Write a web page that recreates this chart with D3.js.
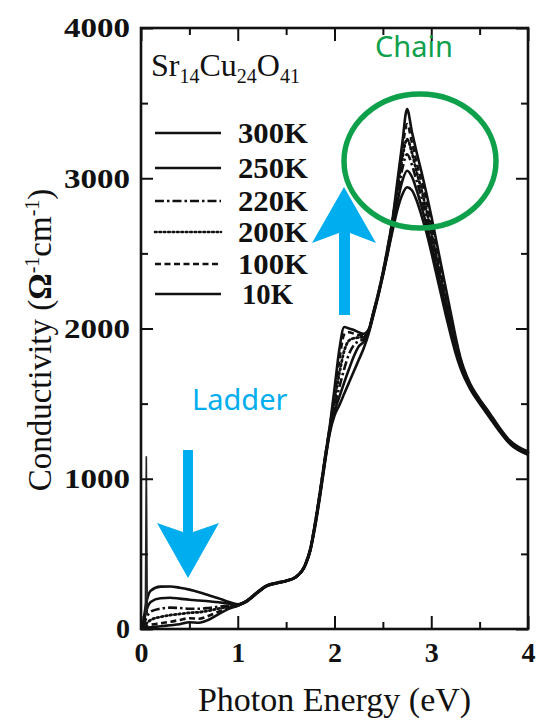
<!DOCTYPE html>
<html><head><meta charset="utf-8">
<script src="https://cdn.jsdelivr.net/npm/d3@7"></script>
<style>body{margin:0;background:#fff}</style>
</head><body>
<svg id="c" width="540" height="720"></svg>
<script>
// ---------------- DATA ----------------
const energy = [0.02,0.06,0.1,0.2,0.3,0.4,0.5,0.6,0.7,0.8,0.9,1.0,1.1,1.2,1.3,1.4,1.5,1.6,
  1.7,1.75,1.8,1.85,1.9,1.95,2.0,2.05,2.1,2.15,2.2,2.25,2.3,2.35,2.4,2.45,2.5,2.55,2.6,2.65,
  2.7,2.75,2.8,2.85,2.9,2.95,3.0,3.05,3.1,3.15,3.2,3.25,3.3,3.4,3.5,3.6,3.7,3.8,3.9,4.0];

const sigma300K = [30,190,255,282,283,275,262,245,225,205,182,165,192,245,290,308,322,348,
  425,520,680,880,1100,1300,1420,1490,1565,1640,1715,1790,1865,1960,2080,2210,2350,2500,2650,2790,
  2890,2940,2920,2850,2750,2640,2510,2370,2230,2090,1960,1840,1740,1600,1500,1410,1320,1240,1190,1160];
const sigma250K = [20,130,180,205,208,202,195,190,185,178,170,163,190,243,288,306,320,346,
  428,525,690,890,1110,1310,1450,1545,1640,1730,1815,1880,1910,1970,2090,2215,2355,2505,2670,2840,
  2980,3050,3010,2920,2810,2690,2560,2420,2280,2140,2000,1870,1760,1610,1510,1420,1325,1245,1195,1165];
const sigma220K = [15,80,115,135,142,140,135,135,140,148,155,160,190,242,287,306,320,345,
  430,528,695,900,1120,1320,1480,1610,1730,1830,1890,1915,1930,1975,2095,2220,2360,2515,2690,2880,
  3060,3160,3090,2980,2870,2740,2600,2460,2310,2170,2030,1890,1775,1620,1515,1425,1330,1250,1200,1170];
const sigma200K = [10,40,60,80,92,100,108,112,122,135,148,158,188,240,286,305,320,345,
  432,530,700,905,1125,1330,1520,1700,1850,1920,1935,1940,1945,1980,2100,2225,2365,2525,2710,2920,
  3130,3260,3170,3040,2920,2790,2640,2490,2340,2190,2050,1910,1790,1625,1520,1430,1335,1255,1205,1175];
const sigma100K = [5,20,28,38,48,60,72,68,88,115,140,157,187,240,286,305,321,346,
  433,532,705,910,1130,1340,1560,1790,1960,1975,1965,1955,1955,1985,2100,2225,2370,2535,2720,2950,
  3190,3360,3240,3100,2980,2850,2700,2540,2380,2230,2080,1930,1800,1630,1525,1435,1340,1258,1208,1178];
const sigma10K = [2,8,12,18,25,32,45,42,62,98,132,155,186,238,285,304,320,345,
  435,535,710,915,1135,1345,1600,1860,2010,2000,1990,1975,1965,1990,2105,2230,2375,2545,2730,2980,
  3230,3460,3310,3170,3040,2900,2750,2590,2430,2270,2110,1950,1810,1635,1530,1440,1345,1262,1212,1182];

// narrow far-infrared (phonon) spike near the origin
const phononEnergy = [0.045,0.055,0.065];
const phononSigma = [100,1150,100];

const temperatures = ["300K","250K","220K","200K","100K","10K"];
const seriesValues = [sigma300K,sigma250K,sigma220K,sigma200K,sigma100K,sigma10K];

const xTickValues = [0,1,2,3,4];
const xMinorTicks = [0.5,1.5,2.5,3.5];
const yTickValues = [0,1000,2000,3000,4000];
const yMinorTicks = [500,1500,2500,3500];

// ---------------- STYLES ----------------
const dashStyle = {"300K":null,"250K":null,"220K":"9,3,2.5,3","200K":"1.6,2.8","100K":"6,3.5","10K":null};
const legendY = [133,168,201,232,264,294];

// ---------------- DRAW ----------------
const svg = d3.select("#c");
const L = 141, R = 528, T = 28, B = 629;
const x = d3.scaleLinear().domain([0,4]).range([L,R]);
const y = d3.scaleLinear().domain([0,4000]).range([B,T]);

const serif = "'Liberation Serif','Times New Roman',serif";

// curves
const line = d3.line().x(d=>x(d[0])).y(d=>y(d[1])).curve(d3.curveMonotoneX);
const gC = svg.append("g");
temperatures.forEach((t,i)=>{
  const pts = energy.map((e,j)=>[e, seriesValues[i][j]]);
  gC.append("path").datum(pts).attr("d", line)
    .attr("fill","none").attr("stroke","#111")
    .attr("stroke-width", t==="200K"?2.8:2.6)
    .attr("stroke-linecap", t==="200K"?"round":"butt")
    .attr("stroke-linejoin","round")
    .attr("stroke-dasharray", dashStyle[t]);
});
gC.append("path").datum(phononEnergy.map((e,j)=>[e,phononSigma[j]]))
  .attr("d", d3.line().x(d=>x(d[0])).y(d=>y(d[1])))
  .attr("fill","none").attr("stroke","#222").attr("stroke-width",1.6);

// axes
const tickLabelStyle = sel => sel.selectAll("text")
  .attr("font-family", serif).attr("font-weight","bold").attr("font-size",28).attr("fill","#111");

const axB = svg.append("g").attr("transform",`translate(0,${B})`)
  .call(d3.axisBottom(x).tickValues(xTickValues).tickFormat(d3.format("d")).tickSize(-13).tickSizeOuter(0).tickPadding(13));
tickLabelStyle(axB);
svg.append("g").attr("transform",`translate(0,${B})`)
  .call(d3.axisBottom(x).tickValues(xMinorTicks).tickFormat("").tickSize(-7).tickSizeOuter(0));
svg.append("g").attr("transform",`translate(0,${T})`)
  .call(d3.axisTop(x).tickValues(xTickValues).tickFormat("").tickSize(-13).tickSizeOuter(0));
svg.append("g").attr("transform",`translate(0,${T})`)
  .call(d3.axisTop(x).tickValues(xMinorTicks).tickFormat("").tickSize(-7).tickSizeOuter(0));

const axL = svg.append("g").attr("transform",`translate(${L},0)`)
  .call(d3.axisLeft(y).tickValues(yTickValues).tickFormat(d3.format("d")).tickSize(-12).tickSizeOuter(0).tickPadding(11));
tickLabelStyle(axL);
axL.selectAll("text").attr("textLength", d=>d>=1000?66:null).attr("lengthAdjust","spacingAndGlyphs");
svg.append("g").attr("transform",`translate(${L},0)`)
  .call(d3.axisLeft(y).tickValues(yMinorTicks).tickFormat("").tickSize(-7).tickSizeOuter(0));
svg.append("g").attr("transform",`translate(${R},0)`)
  .call(d3.axisRight(y).tickValues(yTickValues).tickFormat("").tickSize(-12).tickSizeOuter(0));
svg.append("g").attr("transform",`translate(${R},0)`)
  .call(d3.axisRight(y).tickValues(yMinorTicks).tickFormat("").tickSize(-7).tickSizeOuter(0));

svg.selectAll(".tick line").attr("stroke","#111").attr("stroke-width",2);
svg.selectAll(".domain").attr("stroke","none");
svg.append("rect").attr("x",L).attr("y",T).attr("width",R-L).attr("height",B-T)
  .attr("fill","none").attr("stroke","#111").attr("stroke-width",2.6);

// axis titles
svg.append("text").attr("x",(L+R)/2).attr("y",711).attr("text-anchor","middle")
  .attr("font-family",serif).attr("font-size",34).attr("fill","#111").text("Photon Energy (eV)");
const yt = svg.append("text").attr("transform","translate(51,340) rotate(-90)").attr("text-anchor","middle")
  .attr("font-family",serif).attr("font-size",33).attr("fill","#111");
yt.append("tspan").text("Conductivity (");
yt.append("tspan").text("Ω").attr("font-weight","bold");
yt.append("tspan").text("-1").attr("font-size",20).attr("dy",-12);
yt.append("tspan").text("cm").attr("dy",12);
yt.append("tspan").text("-1").attr("font-size",20).attr("dy",-12);
yt.append("tspan").text(")").attr("dy",12);

// compound name
const ct = svg.append("text").attr("x",151).attr("y",76).attr("font-family",serif)
  .attr("font-size",32).attr("fill","#111");
[["Sr",0],["14",1],["Cu",0],["24",1],["O",0],["41",1]].forEach(([s,sub],k,arr)=>{
  const prevSub = k>0 ? arr[k-1][1] : 0;
  ct.append("tspan").text(s).attr("font-size", sub?20:32)
    .attr("dy", sub && !prevSub ? 7 : (!sub && prevSub ? -7 : 0));
});

// legend
temperatures.forEach((t,i)=>{
  svg.append("line").attr("x1",155).attr("x2",221).attr("y1",legendY[i]).attr("y2",legendY[i])
    .attr("stroke","#111").attr("stroke-width",2.6)
    .attr("stroke-linecap", t==="200K"?"round":"butt")
    .attr("stroke-dasharray", dashStyle[t]);
  svg.append("text").attr("x", t.length===3?242:238).attr("y",legendY[i]+10)
    .attr("font-family",serif).attr("font-weight","bold").attr("font-size",29).attr("fill","#111")
    .attr("textLength", t.length===3?51:70).attr("lengthAdjust","spacingAndGlyphs").text(t);
});

// annotations
const green = "#0ea04b", cyan = "#00adef";
svg.append("ellipse").attr("cx",420).attr("cy",161).attr("rx",76).attr("ry",67)
  .attr("fill","none").attr("stroke",green).attr("stroke-width",5.5);
svg.append("text").attr("x",375).attr("y",57).attr("font-family","'Noto Sans',sans-serif")
  .attr("font-size",29).attr("fill",green).text("Chain");
svg.append("text").attr("x",192).attr("y",410).attr("font-family","'Noto Sans',sans-serif")
  .attr("font-size",29).attr("fill",cyan).text("Ladder");
svg.append("path").attr("fill",cyan)
  .attr("d","M344,187 L376,243 L350,233 L350,315 L339,315 L339,233 L312,243 Z");
svg.append("path").attr("fill",cyan)
  .attr("d","M188,578 L219,523 L193,532 L193,450 L183,450 L183,532 L157,523 Z");
</script>
</body></html>
